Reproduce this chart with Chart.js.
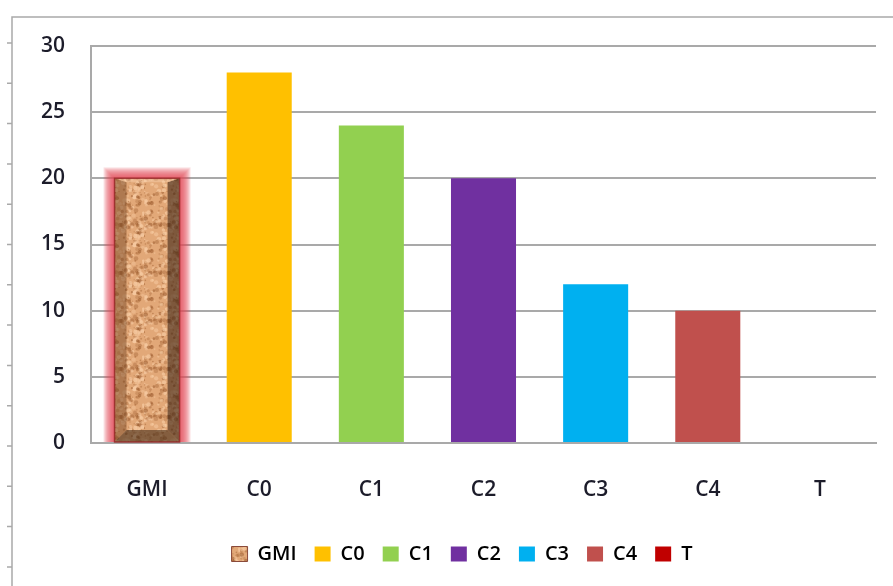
<!DOCTYPE html>
<html lang="en">
<head>
    <meta charset="UTF-8">
    <title>Chart</title>
    <style>
        body {
            margin: 0;
            padding: 0;
            background-color: #ffffff;
            overflow: hidden;
        }
        #barChart {
            display: block;
        }
    </style>
</head>
<body>
    <canvas id="barChart" width="893" height="586"></canvas>
    <script src="https://cdn.jsdelivr.net/npm/chart.js@4.4.1/dist/chart.umd.min.js"></script>
    <script>
        // Chart data
        const categories = ['GMI', 'C0', 'C1', 'C2', 'C3', 'C4', 'T'];
        const values = [20, 28, 24, 20, 12, 10, 0];
        const yTicks = [0, 5, 10, 15, 20, 25, 30];
        const barColors = ['#c9925f', '#ffc000', '#92d050', '#7030a0', '#00b0f0', '#c0504d', '#c00000'];

        const gridGray = '#a9a9a9';
        const textColor = '#1c1c2a';
        const labelFont = { family: 'Open Sans', size: 21, weight: '600' };

        // Cork-like texture for the first bar (seeded so it is the same every time)
        function makeCorkPattern() {
            const c = document.createElement('canvas');
            c.width = 48;
            c.height = 48;
            const g = c.getContext('2d');
            g.fillStyle = '#e2a878';
            g.fillRect(0, 0, 48, 48);
            let seed = 7;
            function rnd() {
                seed = (seed * 16807) % 2147483647;
                return seed / 2147483647;
            }
            for (let i = 0; i < 220; i++) {
                const x = rnd() * 48, y = rnd() * 48, r = 0.6 + rnd() * 1.8;
                const dark = rnd() < 0.5;
                g.fillStyle = dark ? 'rgba(150,85,40,' + (0.2 + rnd() * 0.35) + ')'
                                   : 'rgba(248,205,165,' + (0.3 + rnd() * 0.4) + ')';
                g.beginPath();
                g.arc(x, y, r, 0, Math.PI * 2);
                g.fill();
            }
            return g.createPattern(c, 'repeat');
        }

        const ctx = document.getElementById('barChart').getContext('2d');
        const cork = makeCorkPattern();
        const fills = barColors.map((c, i) => i === 0 ? cork : c);

        // Outer frame with little tick marks along its left edge
        const framePlugin = {
            id: 'frame',
            beforeDraw(chart) {
                const c = chart.ctx;
                c.save();
                c.fillStyle = '#ffffff';
                c.fillRect(0, 0, chart.width, chart.height);
                c.strokeStyle = gridGray;
                c.lineWidth = 1.5;
                c.beginPath();
                c.moveTo(12, chart.height);
                c.lineTo(12, 17);
                c.lineTo(chart.width, 17);
                for (let y = 43; y < chart.height; y += 40.3) {
                    c.moveTo(7, y);
                    c.lineTo(12, y);
                }
                c.stroke();
                c.restore();
            },
            // legend sits a little right of centre
            afterLayout(chart) {
                if (chart.legend) {
                    chart.legend.left += 24;
                    chart.legend.right += 24;
                }
            }
        };

        // Soft red glow behind the first bar, bevel edges on top of it
        const bevelPlugin = {
            id: 'bevel',
            beforeDatasetsDraw(chart) {
                const bar = chart.getDatasetMeta(0).data[0];
                if (!bar) return;
                const c = chart.ctx;
                const w = bar.width, x0 = bar.x - w / 2, y0 = bar.y, h = bar.base - bar.y;
                c.save();
                c.fillStyle = 'rgba(226,75,88,0.15)';
                for (let k = 11; k >= 0; k--) {
                    c.fillRect(x0 - k, y0 - k, w + 2 * k, h + k);
                }
                c.restore();
            },
            afterDatasetsDraw(chart) {
                const bar = chart.getDatasetMeta(0).data[0];
                if (!bar) return;
                const c = chart.ctx;
                const w = bar.width, x0 = bar.x - w / 2, x1 = x0 + w, y0 = bar.y, y1 = bar.base;
                const b = 12;
                c.save();
                const face = (pts, color) => {
                    c.fillStyle = color;
                    c.beginPath();
                    c.moveTo(pts[0][0], pts[0][1]);
                    pts.slice(1).forEach(p => c.lineTo(p[0], p[1]));
                    c.closePath();
                    c.fill();
                };
                face([[x0, y0], [x0 + b, y0 + 4], [x0 + b, y1 - b], [x0, y1]], 'rgba(110,65,30,0.45)');
                face([[x1, y0], [x1 - b, y0 + 4], [x1 - b, y1 - b], [x1, y1]], 'rgba(60,35,20,0.6)');
                face([[x0, y1], [x0 + b, y1 - b], [x1 - b, y1 - b], [x1, y1]], 'rgba(70,45,25,0.6)');
                face([[x0, y0], [x1, y0], [x1 - b, y0 + 4], [x0 + b, y0 + 4]], 'rgba(255,220,190,0.35)');
                c.strokeStyle = 'rgba(150,40,40,0.85)';
                c.lineWidth = 1.5;
                c.strokeRect(x0, y0, w, y1 - y0);
                c.restore();
            }
        };

        new Chart(ctx, {
            type: 'bar',
            data: {
                labels: categories,
                datasets: [{
                    data: values,
                    backgroundColor: fills,
                    borderWidth: 0,
                    categoryPercentage: 1,
                    barPercentage: 0.58
                }]
            },
            options: {
                responsive: false,
                animation: false,
                layout: {
                    padding: { top: 46, right: 17, bottom: 12, left: 0 }
                },
                plugins: {
                    tooltip: { enabled: false },
                    legend: {
                        position: 'bottom',
                        labels: {
                            color: textColor,
                            font: { family: 'Open Sans', size: 20, weight: '600' },
                            boxWidth: 16,
                            boxHeight: 15,
                            padding: 18,
                            generateLabels: () => categories.map((name, i) => ({
                                text: name,
                                fillStyle: fills[i],
                                strokeStyle: i === 0 ? '#8a4a3a' : barColors[i],
                                lineWidth: i === 0 ? 1 : 0,
                                hidden: false,
                                index: i
                            }))
                        }
                    }
                },
                scales: {
                    x: {
                        grid: { display: false },
                        border: { display: true, color: gridGray, width: 2 },
                        ticks: {
                            color: textColor,
                            font: labelFont,
                            padding: 26
                        },
                        afterFit(scale) { scale.height = 83; }
                    },
                    y: {
                        min: 0,
                        max: 30,
                        afterBuildTicks(scale) {
                            scale.ticks = yTicks.map(v => ({ value: v }));
                        },
                        grid: { color: gridGray, lineWidth: 2, drawTicks: false },
                        border: { display: true, color: gridGray, width: 2 },
                        ticks: {
                            color: textColor,
                            font: labelFont,
                            padding: 26
                        },
                        afterFit(scale) { scale.width = 91; }
                    }
                }
            },
            plugins: [framePlugin, bevelPlugin]
        });
    </script>
</body>
</html>
